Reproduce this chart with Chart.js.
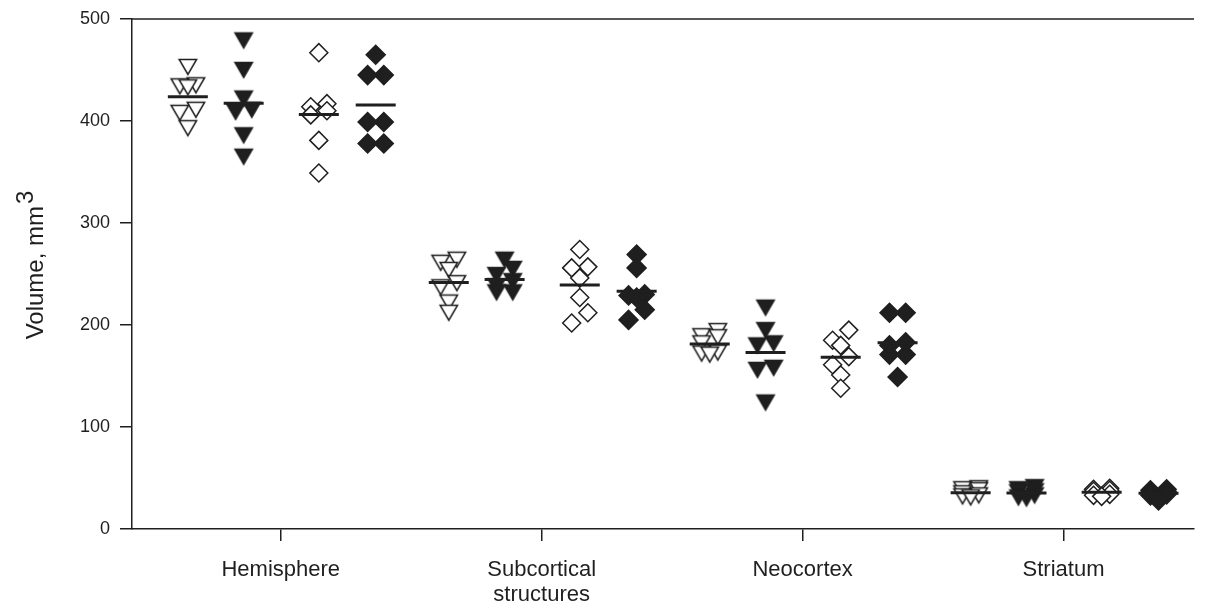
<!DOCTYPE html>
<html>
<head>
<meta charset="utf-8">
<script src="https://cdn.jsdelivr.net/npm/chart.js@4.4.1/dist/chart.umd.min.js"></script>
<style>
  html, body { margin: 0; padding: 0; background: #fff; }
  #wrap { width: 1208px; height: 602px; }
</style>
</head>
<body>
<div id="wrap"><canvas id="chart" width="1208" height="602"></canvas></div>
<script>
// Brain region volumes (mm^3), seven animals per group, per region.
const categories = ['Hemisphere', ['Subcortical', 'structures'], 'Neocortex', 'Striatum'];
const yTicks = [0, 100, 200, 300, 400, 500];

// Each array: [Hemisphere, Subcortical structures, Neocortex, Striatum]
const group1 = [
  [453, 435, 434, 433, 411, 408, 393],
  [264, 261, 254, 241, 237, 222, 212],
  [194, 189, 188, 182, 173, 172, 171],
  [40, 39, 38, 35, 33, 32, 31]
];
const group2 = [
  [479, 450, 422, 411, 409, 386, 365],
  [264, 255, 249, 243, 238, 232, 232],
  [217, 195, 182, 180, 158, 156, 124],
  [41, 39, 37, 36, 33, 31, 30]
];
const group3 = [
  [467, 417, 414, 410, 406, 381, 349],
  [274, 257, 256, 246, 227, 212, 202],
  [195, 185, 180, 169, 161, 151, 138],
  [40, 39, 38, 37, 34, 33, 32]
];
const group4 = [
  [465, 445, 445, 399, 399, 378, 378],
  [269, 256, 230, 229, 227, 215, 205],
  [212, 212, 183, 180, 171, 171, 149],
  [39, 38, 37, 36, 34, 33, 28]
];

// ---- layout / style ----
const groupOffset = [-0.356, -0.142, 0.146, 0.364]; // position of each group around its category
const dodge = 0.031;                                 // side shift for overlapping symbols
const ink = '#1f1f1f';
const font = "'Liberation Sans', Arial, Helvetica, sans-serif";

// Downward triangle symbol centred on its bounding box.
function triangleSymbol(fill) {
  const size = 22, w = 17.4, h = 15;
  const c = document.createElement('canvas');
  c.width = size; c.height = size;
  const g = c.getContext('2d');
  const cx = size / 2, cy = size / 2;
  g.beginPath();
  g.moveTo(cx - w / 2, cy - h / 2);
  g.lineTo(cx + w / 2, cy - h / 2);
  g.lineTo(cx, cy + h / 2);
  g.closePath();
  g.fillStyle = fill;
  g.fill();
  g.lineWidth = 1.5;
  g.lineJoin = 'miter';
  g.strokeStyle = ink;
  g.stroke();
  return c;
}

const styles = [
  { shape: triangleSymbol('#ffffff'), fill: '#ffffff', radius: 10,  overlap: 7.5 },
  { shape: triangleSymbol(ink),       fill: ink,       radius: 10,  overlap: 7.5 },
  { shape: 'rectRot',                 fill: '#ffffff', radius: 9,   overlap: 10.5 },
  { shape: 'rectRot',                 fill: ink,       radius: 9.5, overlap: 10.5 }
];

// Pairs of near-equal values are pushed to either side of the group centre.
function sideColumns(values, overlap) {
  const order = values.map((v, i) => i).sort((a, b) => values[b] - values[a]);
  const cols = new Array(values.length).fill(0);
  let k = 0;
  while (k < order.length) {
    const a = order[k], b = order[k + 1];
    if (b !== undefined && values[a] - values[b] < overlap) {
      cols[a] = 1; cols[b] = -1; k += 2;
    } else {
      cols[a] = 0; k += 1;
    }
  }
  return cols;
}

const mean = arr => arr.reduce((s, v) => s + v, 0) / arr.length;

const groups = [group1, group2, group3, group4];
const datasets = [];
const meanPoints = [];

groups.forEach((g, gi) => {
  const st = styles[gi];
  const pts = [];
  g.forEach((vals, ci) => {
    const cols = sideColumns(vals, st.overlap);
    const cx = ci + 1 + groupOffset[gi];
    vals.forEach((v, i) => pts.push({ x: cx + cols[i] * dodge, y: v }));
    meanPoints.push({ x: cx, y: mean(vals) });
  });
  datasets.push({
    type: 'scatter',
    data: pts,
    pointStyle: st.shape,
    pointRadius: st.radius,
    pointHoverRadius: st.radius,
    backgroundColor: st.fill,
    borderColor: ink,
    borderWidth: 1.5,
    order: 2
  });
});

datasets.push({
  type: 'scatter',
  data: meanPoints,
  pointStyle: 'line',
  pointRadius: 20,
  pointHoverRadius: 20,
  borderColor: ink,
  borderWidth: 3,
  order: 0
});

// Top frame line and the y-axis title with its superscript.
const decorations = {
  id: 'decorations',
  afterDraw(chart) {
    const { ctx, chartArea } = chart;
    ctx.save();
    ctx.strokeStyle = ink;
    ctx.lineWidth = 1.5;
    ctx.beginPath();
    ctx.moveTo(chartArea.left, chartArea.top);
    ctx.lineTo(chartArea.right, chartArea.top);
    ctx.stroke();

    const title = 'Volume, mm';
    const sup = '3';
    ctx.font = '24px ' + font;
    ctx.fillStyle = ink;
    const w1 = ctx.measureText(title).width;
    const w2 = ctx.measureText(sup).width;
    const cy = 266;
    ctx.translate(43, cy);
    ctx.rotate(-Math.PI / 2);
    ctx.textBaseline = 'alphabetic';
    ctx.textAlign = 'left';
    const start = -(w1 + w2) / 2;
    ctx.fillText(title, start, 0);
    ctx.fillText(sup, start + w1 + 2, -10);
    ctx.restore();
  }
};

// Let the layout padding alone decide where the plot frame sits.
const zeroPadding = () => ({ left: 0, top: 0, right: 0, bottom: 0 });
const noScalePadding = s => {
  s.paddingTop = 0; s.paddingBottom = 0; s.paddingLeft = 0; s.paddingRight = 0;
  s.getPadding = zeroPadding;
};

new Chart(document.getElementById('chart'), {
  type: 'scatter',
  data: { datasets },
  plugins: [decorations],
  options: {
    responsive: false,
    devicePixelRatio: 1,
    animation: false,
    events: [],
    layout: { autoPadding: false, padding: { top: 19, right: 14, left: 0, bottom: 0 } },
    plugins: { legend: { display: false }, tooltip: { enabled: false } },
    scales: {
      x: {
        type: 'linear',
        min: 0.43,
        max: 4.5,
        afterBuildTicks: s => { s.ticks = categories.map((c, i) => ({ value: i + 1 })); },
        afterFit: s => { s.height = 73; noScalePadding(s); },
        ticks: {
          callback: v => categories[Math.round(v) - 1],
          font: { family: font, size: 22, lineHeight: 1.14 },
          color: ink,
          padding: 16,
          maxRotation: 0,
          autoSkip: false
        },
        grid: { drawOnChartArea: false, drawTicks: true, tickLength: 12, color: ink, lineWidth: 1.5 },
        border: { display: true, color: ink, width: 1.5 }
      },
      y: {
        type: 'linear',
        min: 0,
        max: 500,
        afterBuildTicks: s => { s.ticks = yTicks.map(v => ({ value: v })); },
        afterFit: s => { s.width = 132; noScalePadding(s); },
        ticks: {
          font: { family: font, size: 18 },
          color: ink,
          padding: 10
        },
        grid: { drawOnChartArea: false, drawTicks: true, tickLength: 12, color: ink, lineWidth: 1.5 },
        border: { display: true, color: ink, width: 1.5 }
      }
    }
  }
});
</script>
</body>
</html>
